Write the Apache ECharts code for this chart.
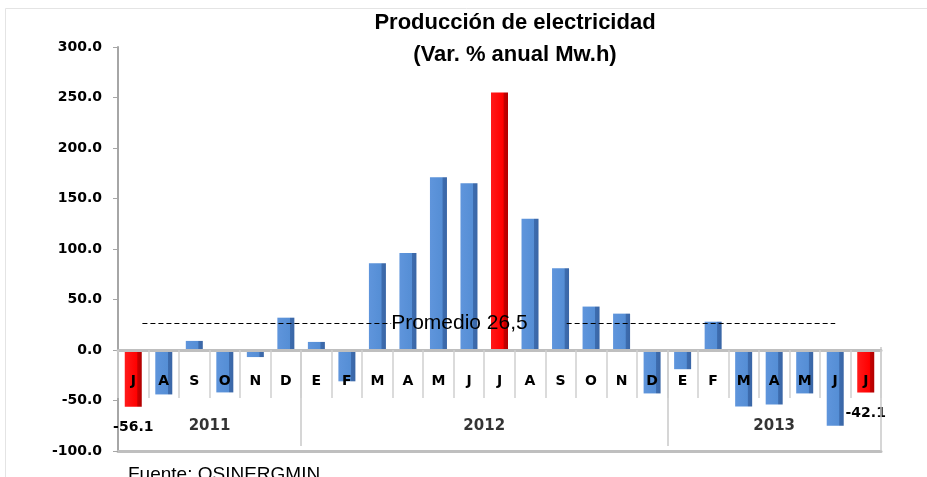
<!DOCTYPE html>
<html>
<head>
<meta charset="utf-8">
<script src="https://cdn.jsdelivr.net/npm/echarts@6/dist/echarts.min.js"></script>
<style>
    html, body { margin: 0; padding: 0; background: #fff; }
    #chart { width: 927px; height: 477px; }
</style>
</head>
<body>
<div id="chart"></div>
<script>
    // meses jul-2011 .. jul-2013
    var months = ['J', 'A', 'S', 'O', 'N', 'D', 'E', 'F', 'M', 'A', 'M', 'J', 'J', 'A', 'S', 'O', 'N', 'D', 'E', 'F', 'M', 'A', 'M', 'J', 'J']
    var values = [-56.1, -44, 9, -42, -7, 32, 8, -31, 86, 96, 171, 165, 255, 130, 81, 43, 36, -43, -19, 28, -56, -54, -43, -75, -42.1]
    var redIndex = [0, 12, 24]
    var labelIndex = [0, 24]
    var years = ['2011', '2012', '2013']
    var yearCounts = [6, 12, 7]
    var yTicks = [-100, -50, 0, 50, 100, 150, 200, 250, 300]
    var average = 26.5

    var blueFill = new echarts.graphic.LinearGradient(0, 0, 1, 0, [
        { offset: 0, color: '#5f95dc' },
        { offset: 0.72, color: '#558ed5' },
        { offset: 0.76, color: '#3d6cae' },
        { offset: 1, color: '#3a66a6' }
    ])
    var redFill = new echarts.graphic.LinearGradient(0, 0, 1, 0, [
        { offset: 0, color: '#ff1a1a' },
        { offset: 0.72, color: '#ff0000' },
        { offset: 0.76, color: '#c80000' },
        { offset: 1, color: '#b00000' }
    ])

    var barData = values.map(function(v, i) {
        var item = {
            value: v,
            itemStyle: { color: redIndex.indexOf(i) >= 0 ? redFill : blueFill }
        }
        if (labelIndex.indexOf(i) >= 0) {
            item.label = {
                show: true,
                position: 'outside',
                distance: 14,
                formatter: function(p) { return p.value.toFixed(1) },
                fontFamily: 'DejaVu Sans',
                fontWeight: 'bold',
                fontSize: 14,
                color: '#000'
            }
        }
        return item
    })

    // centros y separadores de los años
    var yearData = []
    var sepLines = []
    var start = 0
    years.forEach(function(y, i) {
        var end = start + yearCounts[i] - 1
        yearData.push({ value: [(start + end) / 2, -75], name: y })
        if (i < years.length - 1) {
            sepLines.push([{ coord: [end + 0.5, 0] }, { coord: [end + 0.5, -95] }])
        }
        start = end + 1
    })
    sepLines.push([{ coord: [months.length - 0.5, 3] }, { coord: [months.length - 0.5, -100] }])

    var gray = '#bfbfbf'
    var myChart = echarts.init(document.getElementById('chart'))
    var option = {
        animation: false,
        backgroundColor: '#fff',
        title: {
            text: 'Producción de electricidad\n(Var. % anual Mw.h)',
            left: 510,
            top: 2,
            textAlign: 'center',
            textStyle: {
                fontFamily: 'Liberation Sans',
                fontWeight: 'bold',
                fontSize: 22,
                lineHeight: 32,
                color: '#000'
            }
        },
        graphic: [
            {
                type: 'rect',
                shape: { x: 5.5, y: 8.5, width: 1000, height: 1000 },
                style: { fill: 'none', stroke: '#e4e4e4', lineWidth: 1 },
                silent: true
            },
            {
                type: 'text',
                left: 128,
                top: 465,
                style: {
                    text: 'Fuente: OSINERGMIN',
                    fontFamily: 'Liberation Sans',
                    fontSize: 19,
                    fill: '#000'
                }
            }
        ],
        grid: [{
            left: 118,
            right: 46,
            top: 47,
            bottom: 26,
            outerBoundsMode: 'none'
        }, {
            // rejilla auxiliar cuyo borde inferior coincide con el cero
            left: 118,
            right: 46,
            top: 47,
            bottom: 127,
            outerBoundsMode: 'none'
        }],
        xAxis: [{
            type: 'category',
            gridIndex: 0,
            data: months,
            axisLine: { show: false },
            axisTick: { show: false },
            axisLabel: { show: false }
        }, {
            type: 'value',
            gridIndex: 0,
            min: -0.5,
            max: months.length - 0.5,
            position: 'bottom',
            axisLine: {
                show: true,
                onZero: false,
                lineStyle: { color: gray, width: 3 }
            },
            axisTick: { show: false },
            axisLabel: { show: false },
            splitLine: { show: false }
        }, {
            type: 'category',
            gridIndex: 1,
            data: months,
            position: 'bottom',
            z: 5,
            axisLine: {
                onZero: false,
                lineStyle: { color: gray, width: 3 }
            },
            axisTick: {
                show: true,
                interval: 0,
                alignWithLabel: false,
                length: 48,
                lineStyle: { color: '#cfcfcf', width: 1.5 }
            },
            axisLabel: {
                interval: 0,
                margin: 24,
                fontFamily: 'DejaVu Sans',
                fontWeight: 'bold',
                fontSize: 14,
                color: '#000'
            }
        }],
        yAxis: [{
            type: 'value',
            gridIndex: 0,
            min: yTicks[0],
            max: yTicks[yTicks.length - 1],
            interval: 50,
            axisLine: {
                show: true,
                onZero: false,
                lineStyle: { color: '#a6a6a6', width: 2 }
            },
            axisTick: {
                show: true,
                length: 5,
                lineStyle: { color: '#a6a6a6' }
            },
            splitLine: { show: false },
            axisLabel: {
                margin: 16,
                formatter: function(v) { return v.toFixed(1) },
                fontFamily: 'DejaVu Sans',
                fontWeight: 'bold',
                fontSize: 14,
                color: '#000'
            }
        }, {
            type: 'value',
            gridIndex: 1,
            show: false
        }],
        series: [{
            type: 'bar',
            xAxisIndex: 0,
            yAxisIndex: 0,
            barWidth: 17,
            data: barData
        }, {
            type: 'scatter',
            xAxisIndex: 1,
            yAxisIndex: 0,
            symbolSize: 0,
            silent: true,
            data: yearData,
            label: {
                show: true,
                position: 'inside',
                formatter: '{b}',
                fontFamily: 'DejaVu Sans',
                fontWeight: 'bold',
                fontSize: 15,
                color: '#000'
            },
            markLine: {
                silent: true,
                symbol: 'none',
                label: { show: false },
                lineStyle: { color: '#c8c8c8', width: 1.5, type: 'solid' },
                data: sepLines
            }
        }, {
            type: 'line',
            xAxisIndex: 1,
            yAxisIndex: 0,
            data: [],
            markLine: {
                silent: true,
                symbol: 'none',
                lineStyle: { color: '#000', width: 1, type: [5, 3] },
                label: { show: false },
                data: [
                    [{
                        coord: [0.3, average],
                        label: {
                            show: true,
                            position: 'end',
                            distance: 0,
                            formatter: 'Promedio 26,5',
                            fontFamily: 'Liberation Sans',
                            fontSize: 21,
                            color: '#000'
                        }
                    }, { coord: [8.45, average] }],
                    [{ coord: [14.2, average] }, { coord: [23.0, average] }]
                ]
            }
        }]
    }
    myChart.setOption(option)
</script>
</body>
</html>
